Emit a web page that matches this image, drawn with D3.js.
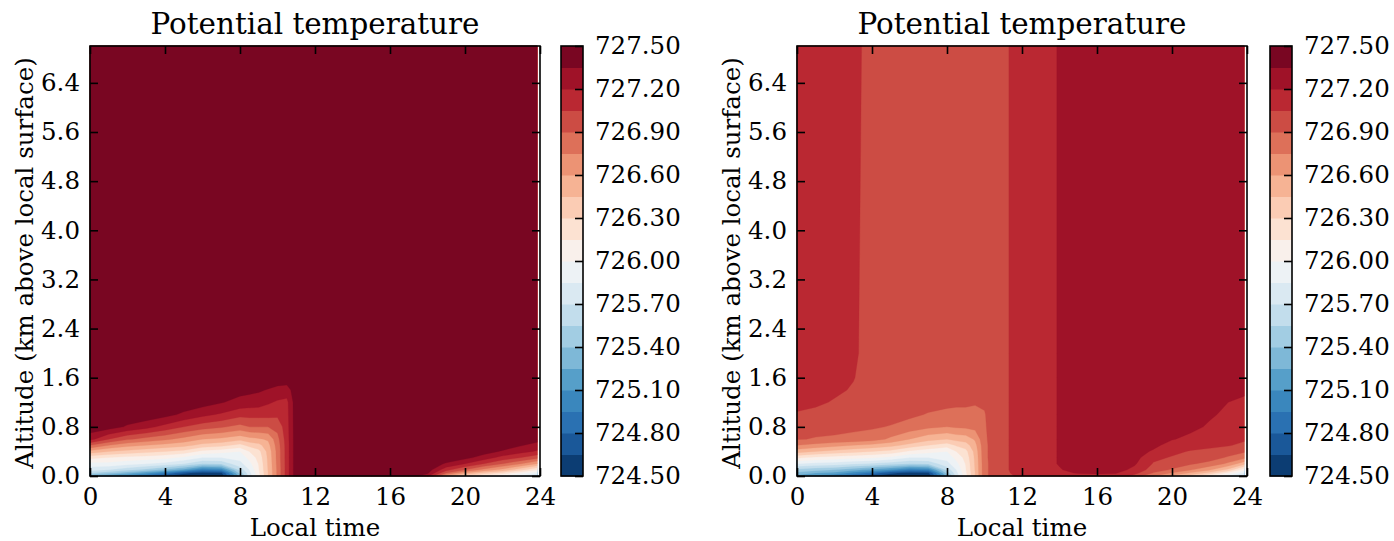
<!DOCTYPE html>
<html>
<head>
<meta charset="utf-8">
<script src="https://cdn.jsdelivr.net/npm/d3@7"></script>
<style>
  body { margin: 0; background: #fff; }
  svg { display: block; }
</style>
</head>
<body>
<svg id="fig" width="1394" height="541"></svg>
<script>
// Model output grid: local time (hours) and altitude above the local surface (km)
const timesH = [0, 1, 2, 3, 4, 5, 6, 7, 8, 8.5, 9, 9.5, 10, 10.5, 11, 12, 13, 14, 15, 16, 17, 18, 19, 20, 21, 22, 23, 23.85];
const altitudesKm = [0, 0.05, 0.1, 0.2, 0.3, 0.4, 0.5, 0.6, 0.8, 1.0, 1.2, 1.4, 1.6, 2.0, 7.0];

// Potential temperature profiles (K), one per time, bottom to top
const thetaLeft = [
  [725.25, 725.55, 725.75, 725.95, 726.20, 726.55, 726.90, 727.25, 727.45, 727.45, 727.45, 727.45, 727.45, 727.45, 727.45],
  [725.10, 725.45, 725.70, 725.95, 726.15, 726.45, 726.75, 727.05, 727.42, 727.45, 727.45, 727.45, 727.45, 727.45, 727.45],
  [725.00, 725.30, 725.60, 725.90, 726.10, 726.40, 726.65, 726.92, 727.33, 727.45, 727.45, 727.45, 727.45, 727.45, 727.45],
  [724.85, 725.15, 725.50, 725.85, 726.08, 726.35, 726.60, 726.85, 727.25, 727.45, 727.45, 727.45, 727.45, 727.45, 727.45],
  [724.66, 724.95, 725.35, 725.80, 726.05, 726.30, 726.55, 726.78, 727.15, 727.40, 727.45, 727.45, 727.45, 727.45, 727.45],
  [724.55, 724.68, 725.20, 725.70, 725.97, 726.25, 726.50, 726.70, 727.05, 727.32, 727.45, 727.45, 727.45, 727.45, 727.45],
  [724.52, 724.60, 724.95, 725.55, 725.85, 726.10, 726.40, 726.60, 726.97, 727.24, 727.42, 727.45, 727.45, 727.45, 727.45],
  [724.53, 724.62, 725.00, 725.58, 725.85, 726.05, 726.35, 726.57, 726.92, 727.18, 727.36, 727.45, 727.45, 727.45, 727.45],
  [725.30, 725.45, 725.60, 725.80, 725.90, 726.00, 726.25, 726.50, 726.85, 727.10, 727.30, 727.40, 727.45, 727.45, 727.45],
  [725.75, 725.80, 725.85, 725.95, 726.05, 726.15, 726.35, 726.55, 726.90, 727.10, 727.28, 727.39, 727.45, 727.45, 727.45],
  [726.10, 726.12, 726.14, 726.16, 726.20, 726.25, 726.40, 726.58, 726.90, 727.10, 727.27, 727.37, 727.45, 727.45, 727.45],
  [726.45, 726.45, 726.46, 726.47, 726.48, 726.50, 726.55, 726.62, 726.90, 727.10, 727.22, 727.34, 727.45, 727.45, 727.45],
  [726.78, 726.78, 726.78, 726.79, 726.80, 726.80, 726.82, 726.85, 726.95, 727.08, 727.18, 727.30, 727.45, 727.45, 727.45],
  [727.12, 727.12, 727.12, 727.12, 727.12, 727.12, 727.12, 727.13, 727.14, 727.15, 727.16, 727.28, 727.45, 727.45, 727.45],
  [727.45, 727.45, 727.45, 727.45, 727.45, 727.45, 727.45, 727.45, 727.45, 727.45, 727.45, 727.45, 727.45, 727.45, 727.45],
  [727.45, 727.45, 727.45, 727.45, 727.45, 727.45, 727.45, 727.45, 727.45, 727.45, 727.45, 727.45, 727.45, 727.45, 727.45],
  [727.45, 727.45, 727.45, 727.45, 727.45, 727.45, 727.45, 727.45, 727.45, 727.45, 727.45, 727.45, 727.45, 727.45, 727.45],
  [727.45, 727.45, 727.45, 727.45, 727.45, 727.45, 727.45, 727.45, 727.45, 727.45, 727.45, 727.45, 727.45, 727.45, 727.45],
  [727.45, 727.45, 727.45, 727.45, 727.45, 727.45, 727.45, 727.45, 727.45, 727.45, 727.45, 727.45, 727.45, 727.45, 727.45],
  [727.45, 727.45, 727.45, 727.45, 727.45, 727.45, 727.45, 727.45, 727.45, 727.45, 727.45, 727.45, 727.45, 727.45, 727.45],
  [727.45, 727.45, 727.45, 727.45, 727.45, 727.45, 727.45, 727.45, 727.45, 727.45, 727.45, 727.45, 727.45, 727.45, 727.45],
  [727.25, 727.38, 727.43, 727.45, 727.45, 727.45, 727.45, 727.45, 727.45, 727.45, 727.45, 727.45, 727.45, 727.45, 727.45],
  [726.60, 726.90, 727.10, 727.33, 727.45, 727.45, 727.45, 727.45, 727.45, 727.45, 727.45, 727.45, 727.45, 727.45, 727.45],
  [726.30, 726.60, 726.90, 727.20, 727.40, 727.45, 727.45, 727.45, 727.45, 727.45, 727.45, 727.45, 727.45, 727.45, 727.45],
  [726.10, 726.40, 726.70, 727.05, 727.28, 727.42, 727.45, 727.45, 727.45, 727.45, 727.45, 727.45, 727.45, 727.45, 727.45],
  [725.95, 726.25, 726.55, 726.90, 727.15, 727.33, 727.45, 727.45, 727.45, 727.45, 727.45, 727.45, 727.45, 727.45, 727.45],
  [725.80, 726.05, 726.35, 726.75, 727.05, 727.25, 727.36, 727.45, 727.45, 727.45, 727.45, 727.45, 727.45, 727.45, 727.45],
  [725.65, 725.90, 726.15, 726.60, 726.95, 727.18, 727.30, 727.40, 727.45, 727.45, 727.45, 727.45, 727.45, 727.45, 727.45]
];

const thetaRight = [
  [725.20, 725.35, 725.50, 725.85, 726.18, 726.52, 726.75, 726.91, 726.97, 727.04, 727.08, 727.10, 727.11, 727.12, 727.12],
  [725.05, 725.25, 725.45, 725.80, 726.12, 726.45, 726.70, 726.89, 726.95, 727.02, 727.07, 727.09, 727.11, 727.12, 727.12],
  [724.95, 725.20, 725.40, 725.78, 726.08, 726.40, 726.65, 726.88, 726.94, 727.00, 727.04, 727.07, 727.10, 727.12, 727.12],
  [724.80, 725.05, 725.30, 725.72, 726.05, 726.35, 726.60, 726.86, 726.93, 726.98, 727.01, 727.04, 727.055, 727.07, 727.09],
  [724.66, 724.90, 725.20, 725.68, 726.02, 726.30, 726.56, 726.82, 726.92, 726.97, 726.99, 727.00, 727.00, 727.00, 727.00],
  [724.55, 724.68, 725.10, 725.62, 725.96, 726.25, 726.50, 726.72, 726.89, 726.96, 726.98, 727.00, 727.00, 727.00, 727.00],
  [724.52, 724.60, 724.95, 725.55, 725.85, 726.12, 726.40, 726.60, 726.84, 726.93, 726.97, 727.00, 727.00, 727.00, 727.00],
  [724.53, 724.62, 725.00, 725.58, 725.85, 726.05, 726.30, 726.50, 726.78, 726.89, 726.95, 726.98, 727.00, 727.00, 727.00],
  [725.30, 725.45, 725.60, 725.80, 725.90, 726.00, 726.22, 726.45, 726.75, 726.87, 726.93, 726.97, 727.00, 727.00, 727.00],
  [725.75, 725.80, 725.85, 725.95, 726.05, 726.15, 726.32, 726.50, 726.77, 726.87, 726.92, 726.96, 727.00, 727.00, 727.00],
  [726.10, 726.12, 726.14, 726.16, 726.20, 726.25, 726.38, 726.52, 726.78, 726.87, 726.92, 726.96, 727.00, 727.00, 727.00],
  [726.45, 726.45, 726.46, 726.47, 726.48, 726.50, 726.55, 726.62, 726.80, 726.87, 726.91, 726.96, 727.00, 727.00, 727.00],
  [726.85, 726.85, 726.85, 726.85, 726.86, 726.86, 726.86, 726.87, 726.88, 726.89, 726.92, 726.96, 727.00, 727.00, 727.00],
  [726.97, 726.97, 726.97, 726.97, 726.97, 726.97, 726.97, 726.97, 726.98, 726.98, 726.98, 726.99, 727.00, 727.00, 727.00],
  [727.01, 727.02, 727.02, 727.02, 727.02, 727.02, 727.02, 727.02, 727.02, 727.02, 727.02, 727.02, 727.02, 727.02, 727.02],
  [727.08, 727.10, 727.12, 727.12, 727.12, 727.12, 727.12, 727.12, 727.12, 727.12, 727.12, 727.12, 727.12, 727.12, 727.12],
  [727.10, 727.13, 727.14, 727.14, 727.14, 727.14, 727.14, 727.14, 727.14, 727.14, 727.14, 727.14, 727.14, 727.14, 727.14],
  [727.12, 727.17, 727.19, 727.21, 727.21, 727.21, 727.21, 727.21, 727.21, 727.21, 727.21, 727.21, 727.21, 727.21, 727.21],
  [727.15, 727.21, 727.25, 727.27, 727.27, 727.27, 727.27, 727.27, 727.27, 727.27, 727.27, 727.27, 727.27, 727.27, 727.27],
  [727.16, 727.22, 727.26, 727.27, 727.27, 727.27, 727.27, 727.27, 727.27, 727.27, 727.27, 727.27, 727.27, 727.27, 727.27],
  [727.15, 727.21, 727.26, 727.27, 727.27, 727.27, 727.27, 727.27, 727.27, 727.27, 727.27, 727.27, 727.27, 727.27, 727.27],
  [727.00, 727.10, 727.16, 727.22, 727.26, 727.27, 727.27, 727.27, 727.27, 727.27, 727.27, 727.27, 727.27, 727.27, 727.27],
  [726.75, 726.89, 726.98, 727.04, 727.08, 727.18, 727.24, 727.27, 727.27, 727.27, 727.27, 727.27, 727.27, 727.27, 727.27],
  [726.55, 726.74, 726.88, 726.98, 727.04, 727.08, 727.14, 727.21, 727.26, 727.27, 727.27, 727.27, 727.27, 727.27, 727.27],
  [726.35, 726.58, 726.76, 726.92, 727.00, 727.04, 727.10, 727.16, 727.24, 727.27, 727.27, 727.27, 727.27, 727.27, 727.27],
  [726.10, 726.40, 726.62, 726.85, 726.97, 727.03, 727.07, 727.11, 727.18, 727.22, 727.25, 727.27, 727.27, 727.27, 727.27],
  [725.83, 726.10, 726.40, 726.72, 726.88, 726.98, 727.06, 727.09, 727.14, 727.17, 727.20, 727.24, 727.27, 727.27, 727.27],
  [725.65, 725.86, 726.05, 726.50, 726.80, 726.92, 727.02, 727.07, 727.12, 727.15, 727.18, 727.22, 727.25, 727.27, 727.27]
];

// Filled-contour levels and colorbar ticks (K)
const levels = [724.50, 724.65, 724.80, 724.95, 725.10, 725.25, 725.40, 725.55, 725.70, 725.85, 726.00,
                726.15, 726.30, 726.45, 726.60, 726.75, 726.90, 727.05, 727.20, 727.35, 727.50];
const colorbarTicks = [724.50, 724.80, 725.10, 725.40, 725.70, 726.00, 726.30, 726.60, 726.90, 727.20, 727.50];
const timeTicks = [0, 4, 8, 12, 16, 20, 24];
const altitudeTicks = [0.0, 0.8, 1.6, 2.4, 3.2, 4.0, 4.8, 5.6, 6.4];

// Reversed red-blue diverging colormap anchors (blue -> white -> red)
const rdbuRStops = ['#053061', '#2166ac', '#4393c3', '#92c5de', '#d1e5f0', '#f7f7f7',
                    '#fddbc7', '#f4a582', '#d6604d', '#b2182b', '#67001f'];

const cmapScale = d3.scaleLinear()
  .domain(rdbuRStops.map((_, k) => k / (rdbuRStops.length - 1)))
  .range(rdbuRStops)
  .interpolate(d3.interpolateRgb);
// 256-entry lookup, sampled at each band's midpoint
const cmap = t => cmapScale(Math.min(255, Math.floor(t * 256)) / 255);
const nBands = levels.length - 1;
const bandColors = d3.range(nBands).map(k => cmap((k + 0.5) / nBands));

const svg = d3.select('#fig');
const FONT = '"DejaVu Serif", serif';
const FS = 24.5;
const TICK = 8;

const panels = [
  { theta: thetaLeft,  x0: 90,  x1: 540,  cbx: 561 },
  { theta: thetaRight, x0: 797, x1: 1247, cbx: 1270 }
];
const Y0 = 46, Y1 = 476, CBW = 22;

function styleAxis(g) {
  g.attr('font-family', FONT).attr('font-size', FS);
  g.select('.domain').remove();
  g.selectAll('.tick line').attr('stroke', '#000').attr('stroke-width', 1.6);
  g.selectAll('.tick text').attr('fill', '#000');
}

panels.forEach(p => {
  const x = d3.scaleLinear().domain([0, 24]).range([p.x0, p.x1]);
  const y = d3.scaleLinear().domain([0, 7]).range([Y1, Y0]);

  const nx = timesH.length, nz = altitudesKm.length;
  const values = new Array(nx * nz);
  for (let j = 0; j < nz; j++)
    for (let i = 0; i < nx; i++) values[j * nx + i] = p.theta[i][j];

  // contour space puts sample i at i + 0.5; map back to the non-uniform grid
  const ix = d3.scaleLinear().domain(d3.range(nx)).range(timesH).clamp(true);
  const iz = d3.scaleLinear().domain(d3.range(nz)).range(altitudesKm).clamp(true);
  const toScreen = d3.geoTransform({
    point(gx, gz) { this.stream.point(x(ix(gx - 0.5)), y(iz(gz - 0.5))); }
  });
  const path = d3.geoPath(toScreen);

  const bands = d3.contours().size([nx, nz]).thresholds(levels.slice(0, -1))(values);

  const g = svg.append('g');
  g.selectAll('path')
    .data(bands)
    .join('path')
    .attr('d', path)
    .attr('fill', d => bandColors[levels.indexOf(d.value)])
    .attr('stroke', d => bandColors[levels.indexOf(d.value)])
    .attr('stroke-width', 0.3);

  // axes with inward ticks on all four sides
  const axB = svg.append('g').attr('transform', `translate(0,${Y1})`)
    .call(d3.axisBottom(x).tickValues(timeTicks).tickSize(-TICK).tickPadding(12).tickFormat(d3.format('d')));
  styleAxis(axB);
  const axT = svg.append('g').attr('transform', `translate(0,${Y0})`)
    .call(d3.axisTop(x).tickValues(timeTicks).tickSize(-TICK).tickFormat(''));
  styleAxis(axT);
  const axL = svg.append('g').attr('transform', `translate(${p.x0},0)`)
    .call(d3.axisLeft(y).tickValues(altitudeTicks).tickSize(-TICK).tickPadding(10).tickFormat(d3.format('.1f')));
  styleAxis(axL);
  const axR = svg.append('g').attr('transform', `translate(${p.x1},0)`)
    .call(d3.axisRight(y).tickValues(altitudeTicks).tickSize(-TICK).tickFormat(''));
  styleAxis(axR);

  svg.append('rect')
    .attr('x', p.x0).attr('y', Y0)
    .attr('width', p.x1 - p.x0).attr('height', Y1 - Y0)
    .attr('fill', 'none').attr('stroke', '#000').attr('stroke-width', 1.6);

  const cx = (p.x0 + p.x1) / 2;
  svg.append('text')
    .attr('x', cx).attr('y', 34)
    .attr('text-anchor', 'middle')
    .attr('font-family', FONT).attr('font-size', FS * 1.2)
    .text('Potential temperature');
  svg.append('text')
    .attr('x', cx).attr('y', 536)
    .attr('text-anchor', 'middle')
    .attr('font-family', FONT).attr('font-size', FS)
    .text('Local time');
  svg.append('text')
    .attr('transform', `translate(${p.x0 - 57},${(Y0 + Y1) / 2 + 2}) rotate(-90)`)
    .attr('text-anchor', 'middle')
    .attr('font-family', FONT).attr('font-size', FS)
    .text('Altitude (km above local surface)');

  // colorbar
  const c = d3.scaleLinear().domain([levels[0], levels[levels.length - 1]]).range([Y1, Y0]);
  const cb = svg.append('g');
  cb.selectAll('rect')
    .data(d3.range(nBands))
    .join('rect')
    .attr('x', p.cbx)
    .attr('width', CBW)
    .attr('y', k => c(levels[k + 1]))
    .attr('height', k => c(levels[k]) - c(levels[k + 1]) + 0.5)
    .attr('fill', k => bandColors[k]);
  const axC = svg.append('g').attr('transform', `translate(${p.cbx + CBW},0)`)
    .call(d3.axisRight(c).tickValues(colorbarTicks).tickSize(-TICK).tickPadding(12).tickFormat(d3.format('.2f')));
  styleAxis(axC);
  svg.append('rect')
    .attr('x', p.cbx).attr('y', Y0)
    .attr('width', CBW).attr('height', Y1 - Y0)
    .attr('fill', 'none').attr('stroke', '#000').attr('stroke-width', 1.6);
});
</script>
</body>
</html>
